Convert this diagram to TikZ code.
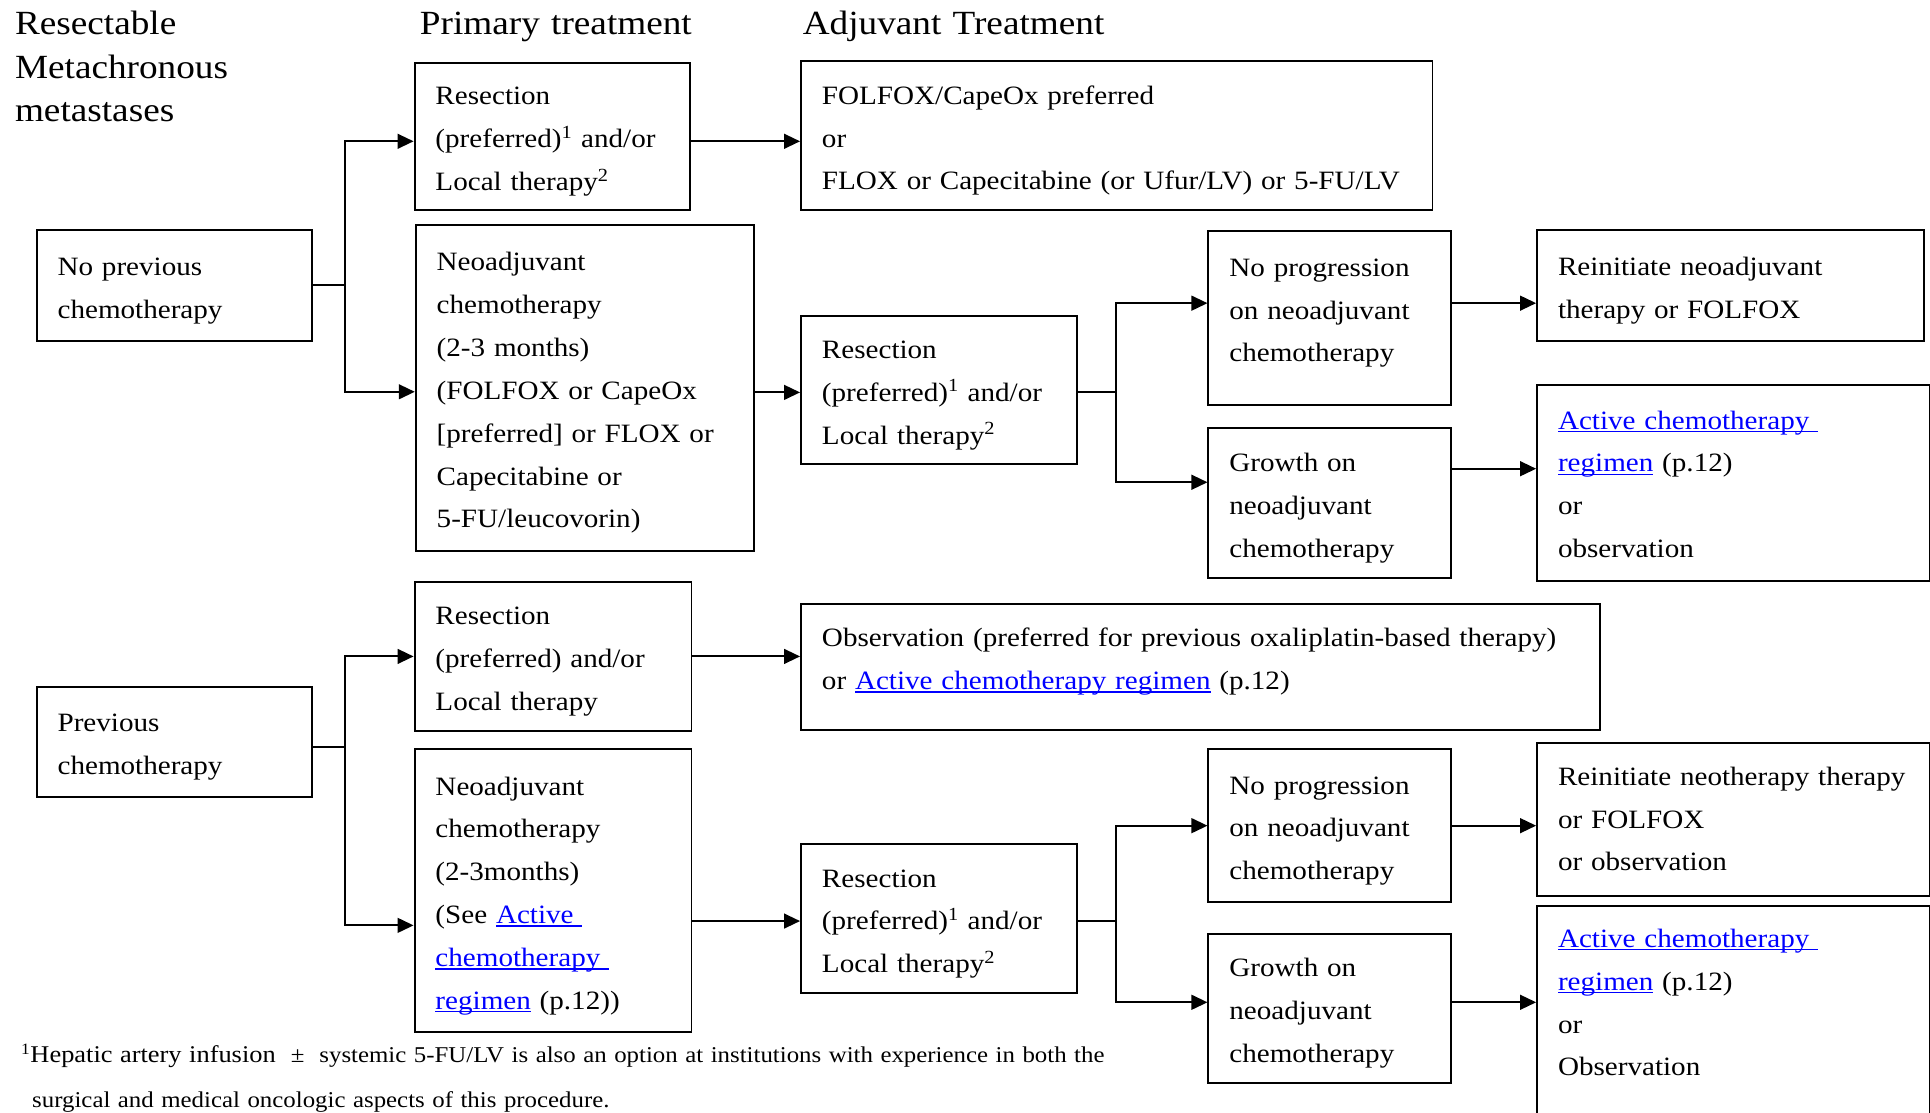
\documentclass[tikz,border=0pt]{standalone}
\usepackage{fontspec}
\setmainfont{Liberation Serif}[FakeStretch=1.1]
\usepackage{xcolor}
\usetikzlibrary{arrows.meta}
\colorlet{linkblue}{blue}
\newcommand\bodyfont{\fontsize{21.5}{34.8}\selectfont}
\newcommand\headfont{\fontsize{27.5}{35}\selectfont}
\newcommand\notefont{\fontsize{18.35}{37}\selectfont}
\newcommand\lnk[1]{\textcolor{linkblue}{\setbox0\hbox{#1}\rlap{\rule[-2.5pt]{\wd0}{1.1pt}}\box0}}
\tikzset{
  >={Triangle[length=13pt,width=12pt]},
  box/.style={draw,line width=1.6pt,anchor=north west,align=left,inner xsep=17pt,inner ysep=3pt,font=\bodyfont,
    execute at begin node={\rule{0pt}{23pt}}},
  lift/.style={execute at end node={\rule[-#1]{0pt}{0pt}}},
  head/.style={anchor=base west,inner sep=0pt,align=left,text width=260pt,font=\headfont},
  connect/.style={line width=1.6pt},
  connect arrow/.style={->,line width=1.6pt}
}

\begin{document}
\begin{tikzpicture}[x=1pt,y=-1pt]
\useasboundingbox (0,0) rectangle (1568,904);
\path
(12,28.4)  node[head] (title) {Resectable\\Metachronous\\metastases}
(341,28.4) node[head] (primary) {Primary treatment}
(652,28.4) node[head] (adjuvant) {Adjuvant Treatment}
(29,186)   node[box,minimum width=224pt,text width=190pt,minimum height=90pt] (nopc) {No previous\\chemotherapy}
(336,50)   node[box,minimum width=224pt,text width=190pt,minimum height=120pt] (res1) {Resection\\(preferred)\textsuperscript{1} and/or\\Local therapy\textsuperscript{2}}
(337,182)  node[box,minimum width=275pt,text width=241pt,minimum height=265pt] (neo1) {Neoadjuvant\\chemotherapy\\(2-3 months)\\(FOLFOX or CapeOx\\{[}preferred] or FLOX or\\Capecitabine or\\5-FU/leucovorin)}
(650,49)   node[box,minimum width=513pt,text width=479pt,minimum height=121pt] (folfox) {FOLFOX/CapeOx preferred\\or\\FLOX or Capecitabine (or Ufur/LV) or 5-FU/LV}
(650,256)  node[box,minimum width=224pt,text width=190pt,minimum height=120pt] (res2) {Resection\\(preferred)\textsuperscript{1} and/or\\Local therapy\textsuperscript{2}}
(981,187)  node[box,lift=21pt,minimum width=197pt,text width=163pt,minimum height=141pt] (noprog1) {No progression\\on neoadjuvant\\chemotherapy}
(1248,186) node[box,minimum width=314pt,text width=280pt,minimum height=90pt] (reinit1) {Reinitiate neoadjuvant\\therapy or FOLFOX}
(981,347)  node[box,minimum width=197pt,text width=163pt,minimum height=122pt] (growth1) {Growth on\\neoadjuvant\\chemotherapy}
(1248,312) node[box,lift=6pt,minimum width=319pt,text width=285pt,minimum height=159pt] (active1) {\lnk{Active chemotherapy\ }\\\lnk{regimen} (p.12)\\or\\observation}
(29,557)   node[box,minimum width=224pt,text width=190pt,minimum height=90pt] (prevc) {Previous\\chemotherapy}
(336,472)  node[box,minimum width=225pt,text width=191pt,minimum height=121pt] (res3) {Resection\\(preferred) and/or\\Local therapy}
(650,490)  node[box,lift=21pt,minimum width=649pt,text width=615pt,minimum height=102pt] (obs) {Observation (preferred for previous oxaliplatin-based therapy)\\or \lnk{Active chemotherapy regimen} (p.12)}
(336,608)  node[box,minimum width=225pt,text width=191pt,minimum height=230pt] (neo2) {Neoadjuvant\\chemotherapy\\(2-3months)\\(See \lnk{Active\ }\\\lnk{chemotherapy\ }\\\lnk{regimen} (p.12))}
(650,685)  node[box,minimum width=224pt,text width=190pt,minimum height=121pt] (res4) {Resection\\(preferred)\textsuperscript{1} and/or\\Local therapy\textsuperscript{2}}
(981,608)  node[box,minimum width=197pt,text width=163pt,minimum height=124pt] (noprog2) {No progression\\on neoadjuvant\\chemotherapy}
(1248,603) node[box,lift=9pt,minimum width=319pt,text width=285pt,minimum height=124pt] (reinit2) {Reinitiate neotherapy therapy\\or FOLFOX\\or observation}
(981,758)  node[box,minimum width=197pt,text width=163pt,minimum height=121pt] (growth2) {Growth on\\neoadjuvant\\chemotherapy}
(1248,735) node[box,minimum width=319pt,text width=285pt,minimum height=184pt] (active2) {\lnk{Active chemotherapy\ }\\\lnk{regimen} (p.12)\\or\\Observation\\\mbox{}}
(17,863)   node[anchor=base west,inner sep=0pt,align=left,text width=1000pt,font=\notefont] (note) {\textsuperscript{1}{\fontsize{19.5}{37}\selectfont Hepatic artery infusion}\ \ ±\ \ systemic 5-FU/LV is also an option at institutions with experience in both the\\\hspace*{9pt}surgical and medical oncologic aspects of this procedure.};
% no previous chemotherapy
\draw[connect] (nopc.east) -- ++(26,0) coordinate (b1);
\draw[connect arrow] (b1) |- ([yshift=-4pt]res1.west);
\draw[connect arrow] (b1) |- ([yshift=-3pt]neo1.west);
\draw[connect arrow] ([yshift=-4pt]res1.east) coordinate (r1) -- (r1 -| folfox.west);
\path ([yshift=-2pt]res2.west) coordinate (r2);
\draw[connect arrow] (r2 -| neo1.east) -- (r2);
\draw[connect] ([yshift=-2pt]res2.east) -- ++(31,0) coordinate (b2);
\draw[connect arrow] (b2) |- ([yshift=12pt]noprog1.west);
\draw[connect arrow] (b2) |- ([yshift=17pt]growth1.west);
\draw[connect arrow] ([yshift=12pt]noprog1.east) coordinate (n1) -- (n1 -| reinit1.west);
\draw[connect arrow] ([yshift=28pt]growth1.east) coordinate (g1) -- (g1 -| active1.west);
% previous chemotherapy
\draw[connect] ([yshift=-4pt]prevc.east) -- ++(26,0) coordinate (b3);
\draw[connect arrow] (b3) |- (res3.west);
\draw[connect arrow] (b3) |- ([yshift=-28pt]neo2.west);
\draw[connect arrow] (res3.east) -- (res3.east -| obs.west);
\path ([yshift=-2pt]res4.west) coordinate (r4);
\draw[connect arrow] (r4 -| neo2.east) -- (r4);
\draw[connect] ([yshift=-2pt]res4.east) -- ++(31,0) coordinate (b4);
\draw[connect arrow] (b4) |- (noprog2.west);
\draw[connect arrow] (b4) |- ([yshift=5pt]growth2.west);
\draw[connect arrow] (noprog2.east) -- (noprog2.east -| reinit2.west);
\draw[connect arrow] ([yshift=5pt]growth2.east) coordinate (g2) -- (g2 -| active2.west);
\end{tikzpicture}
\end{document}
